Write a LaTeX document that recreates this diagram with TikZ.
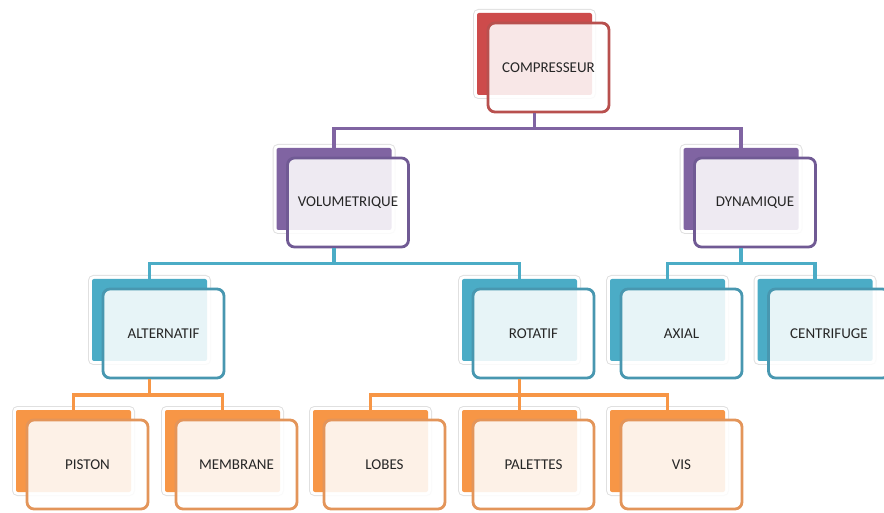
\documentclass[tikz,border=0pt]{standalone}
\usepackage{fontspec}
\setmainfont{Carlito}
\usetikzlibrary{positioning, calc}
\definecolor{cRed}{HTML}{CD4B4B}
\definecolor{cRedLine}{HTML}{B8504E}
\definecolor{cPurple}{HTML}{8064A2}
\definecolor{cPurpleLine}{HTML}{705A94}
\definecolor{cTeal}{HTML}{4BACC6}
\definecolor{cTealLine}{HTML}{4897B0}
\definecolor{cOrange}{HTML}{F79646}
\definecolor{cOrangeLine}{HTML}{E3955A}

\begin{document}
\begin{tikzpicture}[
                x=1pt, y=1pt,
                backcard/.style = {rectangle, rounded corners=2pt, minimum width=115pt, minimum height=82pt,
                                   fill=#1, preaction={draw=black!12, line width=8pt},
                                   preaction={draw=white, line width=6pt}},
                card/.style = {rectangle, rounded corners=7pt, minimum width=121pt, minimum height=89pt,
                               draw=#1, line width=2.8pt, fill=white, fill opacity=0.87, text opacity=1,
                               text=black!85, font=\fontsize{15}{17}\selectfont},
                wire/.style = {draw=#1, line width=3.2pt}
              ]
              \useasboundingbox (0,0) rectangle (884,512);
              % Level 0
              \node[backcard=cRed] (comp-b) at (534.5,458) {};
              \node[card=cRedLine] (comp) at ([shift={(14,-13.5)}]comp-b) {COMPRESSEUR};
              % Level 1
              \node[backcard=cPurple] (vol-b) at (334,323) {};
              \node[card=cPurpleLine] (vol) at ([shift={(14,-13.5)}]vol-b) {VOLUMETRIQUE};
              \node[backcard=cPurple] (dyn-b) at (741,323) {};
              \node[card=cPurpleLine] (dyn) at ([shift={(14,-13.5)}]dyn-b) {DYNAMIQUE};
              % Level 2
              \node[backcard=cTeal] (alt-b) at (149.5,192) {};
              \node[card=cTealLine] (alt) at ([shift={(14,-13.5)}]alt-b) {ALTERNATIF};
              \node[backcard=cTeal] (rot-b) at (519.5,192) {};
              \node[card=cTealLine] (rot) at ([shift={(14,-13.5)}]rot-b) {ROTATIF};
              \node[backcard=cTeal] (axi-b) at (667.5,192) {};
              \node[card=cTealLine] (axi) at ([shift={(14,-13.5)}]axi-b) {AXIAL};
              \node[backcard=cTeal] (cen-b) at (815,192) {};
              \node[card=cTealLine] (cen) at ([shift={(14,-13.5)}]cen-b) {CENTRIFUGE};
              % Level 3
              \node[backcard=cOrange] (pis-b) at (73.5,61) {};
              \node[card=cOrangeLine] (pis) at ([shift={(14,-13.5)}]pis-b) {PISTON};
              \node[backcard=cOrange] (mem-b) at (222.5,61) {};
              \node[card=cOrangeLine] (mem) at ([shift={(14,-13.5)}]mem-b) {MEMBRANE};
              \node[backcard=cOrange] (lob-b) at (370.5,61) {};
              \node[card=cOrangeLine] (lob) at ([shift={(14,-13.5)}]lob-b) {LOBES};
              \node[backcard=cOrange] (pal-b) at (519.5,61) {};
              \node[card=cOrangeLine] (pal) at ([shift={(14,-13.5)}]pal-b) {PALETTES};
              \node[backcard=cOrange] (vis-b) at (667.5,61) {};
              \node[card=cOrangeLine] (vis) at ([shift={(14,-13.5)}]vis-b) {VIS};
              % Connections
              \draw[wire=cPurple] (comp-b |- comp.south) -- ++(0,-15.5) -| (vol-b.north);
              \draw[wire=cPurple] (comp-b |- comp.south) -- ++(0,-15.5) -| (dyn-b.north);
              \draw[wire=cTeal] (vol-b |- vol.south) -- ++(0,-15.5) -| (alt-b.north);
              \draw[wire=cTeal] (vol-b |- vol.south) -- ++(0,-15.5) -| (rot-b.north);
              \draw[wire=cTeal] (dyn-b |- dyn.south) -- ++(0,-15.5) -| (axi-b.north);
              \draw[wire=cTeal] (dyn-b |- dyn.south) -- ++(0,-15.5) -| (cen-b.north);
              \draw[wire=cOrange] (alt-b |- alt.south) -- ++(0,-15.5) -| (pis-b.north);
              \draw[wire=cOrange] (alt-b |- alt.south) -- ++(0,-15.5) -| (mem-b.north);
              \draw[wire=cOrange] (rot-b |- rot.south) -- ++(0,-15.5) -| (lob-b.north);
              \draw[wire=cOrange] (rot-b |- rot.south) -- ++(0,-15.5) -| (pal-b.north);
              \draw[wire=cOrange] (rot-b |- rot.south) -- ++(0,-15.5) -| (vis-b.north);
            \end{tikzpicture}
\end{document}
